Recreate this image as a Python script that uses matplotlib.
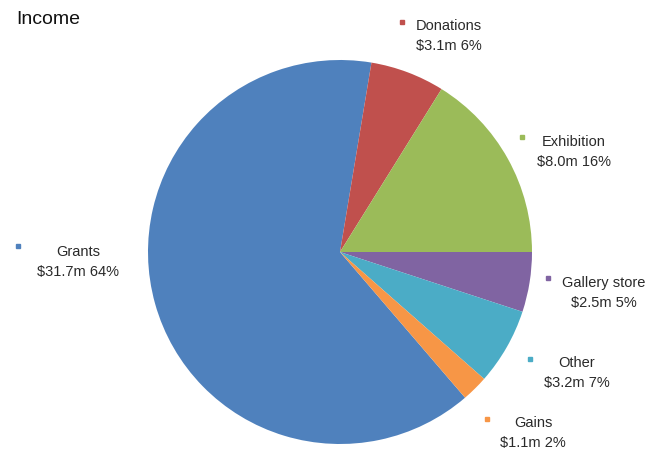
import matplotlib
matplotlib.use("Agg")
import matplotlib.pyplot as plt

plt.rcParams['font.family'] = ['Liberation Sans', 'DejaVu Sans']

# Data
categories = ["Grants", "Donations", "Exhibition", "Gallery store", "Other", "Gains"]
values_m = [31.7, 3.1, 8.0, 2.5, 3.2, 1.1]
percent_labels = [64, 6, 16, 5, 7, 2]
colors = ["#4F81BD", "#C0504D", "#9BBB59", "#8064A2", "#4BACC6", "#F79646"]

# Layout (pixel positions of label blocks: dot x, dot y, text centre x, first line y)
label_layout = {
    "Grants":        (18, 246, 78, 252),
    "Donations":     (402, 22, 449, 26),
    "Exhibition":    (522, 137, 574, 142),
    "Gallery store": (548, 278, 604, 283),
    "Other":         (530, 359, 577, 363),
    "Gains":         (487, 419, 533, 423),
}

W, H = 655, 450
fig = plt.figure(figsize=(W / 100, H / 100), dpi=100)
fig.patch.set_facecolor("white")

cx, cy, r = 340, 252, 192
ax = fig.add_axes([(cx - r) / W, (H - cy - r) / H, 2 * r / W, 2 * r / H])
total = sum(values_m)
start = (values_m[1] + values_m[2]) / total * 360 + values_m[0] / total * 360
ax.pie(values_m, colors=colors, startangle=start, counterclock=False,
       radius=1, wedgeprops=dict(linewidth=0))
ax.set_xlim(-1, 1)
ax.set_ylim(-1, 1)
ax.axis("off")

ov = fig.add_axes([0, 0, 1, 1])
ov.set_xlim(0, W)
ov.set_ylim(H, 0)
ov.axis("off")
ov.patch.set_alpha(0)

ov.text(16, 19, "Income", fontsize=14, color="#111111", ha="left", va="center")

for cat, val, pct, col in zip(categories, values_m, percent_labels, colors):
    dx, dy, tx, ty = label_layout[cat]
    ov.plot([dx], [dy], marker="s", markersize=3.5, color=col, linestyle="none")
    ov.text(tx, ty, cat, fontsize=10.5, color="#2a2a2a", ha="center", va="center")
    ov.text(tx, ty + 20, f"${val:.1f}m {pct}%", fontsize=10.5, color="#2a2a2a",
            ha="center", va="center")

fig.savefig("out.png", dpi=100, facecolor="white")
